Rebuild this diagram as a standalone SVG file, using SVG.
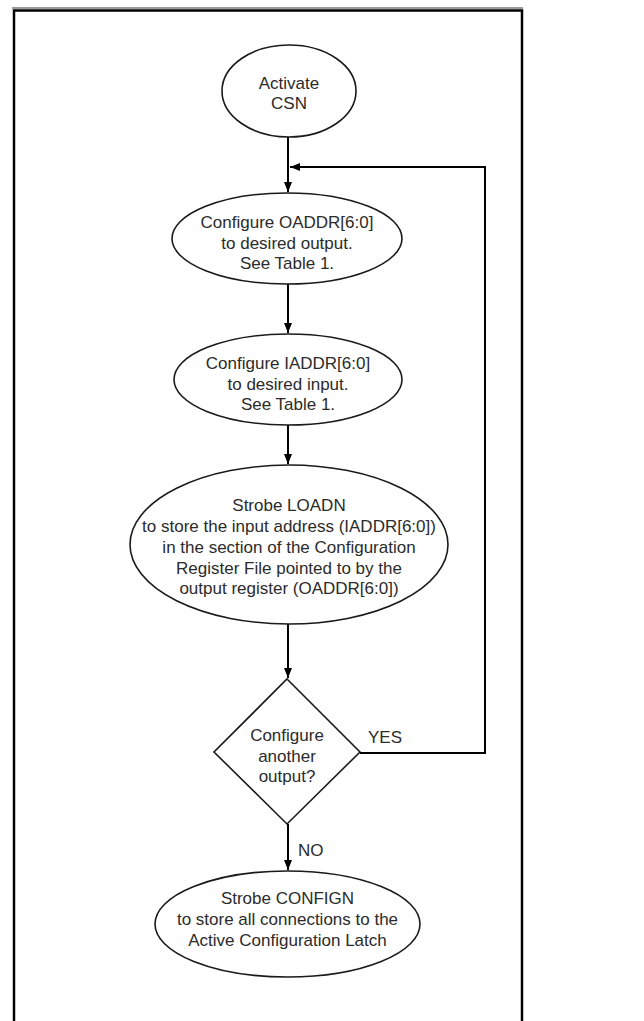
<svg xmlns="http://www.w3.org/2000/svg" width="644" height="1021" viewBox="0 0 644 1021">
<style>
.shape{fill:#fff;stroke:#1a1a1a;stroke-width:1.6}
.conn{fill:none;stroke:#000;stroke-width:2}
text{font-family:"Liberation Sans",Arial,sans-serif;font-size:17px;fill:#2b2b2b;text-anchor:middle}
.lbl{text-anchor:start}
</style>
<defs>
<marker id="arr" viewBox="0 0 10 8" refX="10" refY="4" markerWidth="10" markerHeight="8" markerUnits="userSpaceOnUse" orient="auto">
<path d="M0,0 L10,4 L0,8 z" fill="#000"/>
</marker>
</defs>
<rect width="644" height="1021" fill="#fff"/>
<g id="frame">
<line x1="12" y1="8" x2="523" y2="8" stroke="#999" stroke-width="2"/>
<path d="M14,1021 V10.5 H522 V1021" fill="none" stroke="#000" stroke-width="2.5"/>
</g>
<g id="connectors">
<line class="conn" x1="288" y1="137" x2="288" y2="192" marker-end="url(#arr)"/>
<line class="conn" x1="288" y1="284" x2="288" y2="333" marker-end="url(#arr)"/>
<line class="conn" x1="288" y1="425" x2="288" y2="464" marker-end="url(#arr)"/>
<line class="conn" x1="288" y1="624" x2="288" y2="678" marker-end="url(#arr)"/>
<line class="conn" x1="288" y1="824" x2="288" y2="870" marker-end="url(#arr)"/>
<path class="conn" d="M360,753 H485 V167 H290" marker-end="url(#arr)"/>
<text class="lbl" x="368" y="743">YES</text>
<text class="lbl" x="298" y="856">NO</text>
</g>
<g id="n1">
<ellipse class="shape" cx="289" cy="91" rx="67" ry="46"/>
<text x="289" y="89">Activate</text>
<text x="289" y="109">CSN</text>
</g>
<g id="n2">
<ellipse class="shape" cx="287" cy="238.5" rx="115" ry="45.5"/>
<text x="287" y="228">Configure OADDR[6:0]</text>
<text x="287" y="249">to desired output.</text>
<text x="287" y="269">See Table 1.</text>
</g>
<g id="n3">
<ellipse class="shape" cx="288" cy="379.5" rx="114" ry="45.5"/>
<text x="288" y="369">Configure IADDR[6:0]</text>
<text x="288" y="390">to desired input.</text>
<text x="288" y="410">See Table 1.</text>
</g>
<g id="n4">
<ellipse class="shape" cx="289" cy="544.5" rx="159" ry="79.5"/>
<text x="289" y="511">Strobe LOADN</text>
<text x="289" y="532">to store the input address (IADDR[6:0])</text>
<text x="289" y="553">in the section of the Configuration</text>
<text x="289" y="574">Register File pointed to by the</text>
<text x="289" y="594">output register (OADDR[6:0])</text>
</g>
<g id="n5">
<polygon class="shape" points="287,679 360,752 287,824 214,752"/>
<text x="287" y="741">Configure</text>
<text x="287" y="762">another</text>
<text x="287" y="782">output?</text>
</g>
<g id="n6">
<ellipse class="shape" cx="287.5" cy="924" rx="132.5" ry="53"/>
<text x="287.5" y="904">Strobe CONFIGN</text>
<text x="287.5" y="925">to store all connections to the</text>
<text x="287.5" y="946">Active Configuration Latch</text>
</g>
</svg>
